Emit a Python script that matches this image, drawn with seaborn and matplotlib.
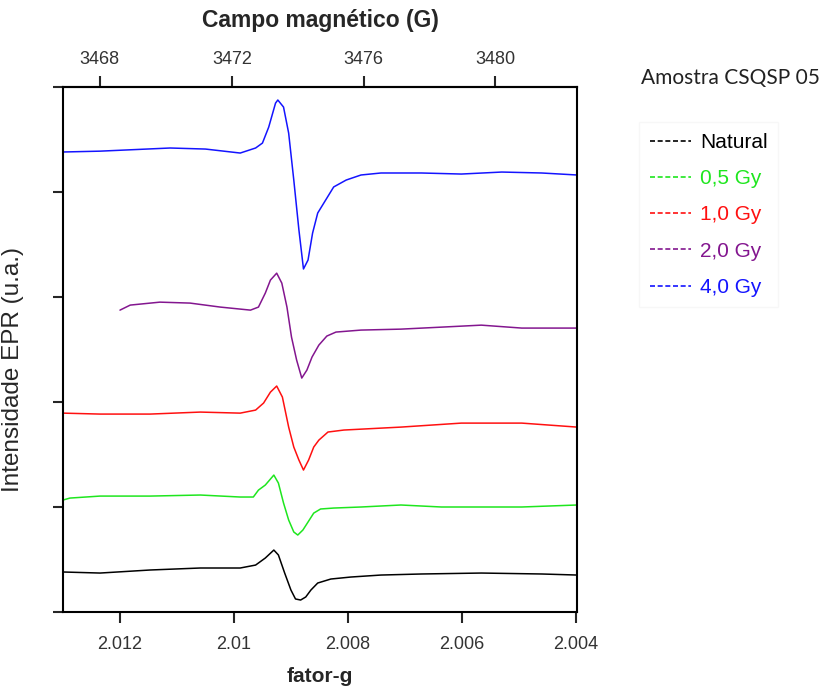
import numpy as np
import pandas as pd
import matplotlib
matplotlib.use("Agg")
import matplotlib.pyplot as plt
from matplotlib.lines import Line2D
import seaborn as sns

# ---------------- data ----------------
g_natural = [2.01300, 2.01235, 2.01147, 2.01059, 2.00989, 2.00962, 2.00945, 2.00930,
             2.00922, 2.00911, 2.00900, 2.00892, 2.00883, 2.00874, 2.00865, 2.00853,
             2.00830, 2.00795, 2.00742, 2.00671, 2.00566, 2.00460, 2.00398]
i_natural = [38.1, 37.1, 40.0, 41.9, 41.9, 44.7, 51.4, 59.0,
             54.3, 37.1, 20.9, 12.4, 11.4, 14.3, 20.9, 27.6,
             31.4, 33.3, 35.2, 36.2, 37.1, 36.2, 35.2]

g_05gy = [2.01300, 2.01288, 2.01235, 2.01147, 2.01059, 2.00989, 2.00966, 2.00957,
          2.00945, 2.00930, 2.00922, 2.00913, 2.00904, 2.00895, 2.00888, 2.00879,
          2.00870, 2.00860, 2.00848, 2.00825, 2.00777, 2.00707, 2.00636, 2.00566,
          2.00495, 2.00398]
i_05gy = [106.6, 108.5, 110.4, 110.4, 111.4, 109.5, 109.5, 116.1,
          120.9, 130.4, 122.8, 103.8, 87.6, 76.2, 73.3, 78.1,
          85.7, 94.2, 98.1, 99.0, 100.0, 101.9, 100.0, 100.0,
          100.0, 101.9]

g_10gy = [2.01300, 2.01235, 2.01147, 2.01059, 2.00989, 2.00962, 2.00948, 2.00936,
          2.00925, 2.00915, 2.00904, 2.00895, 2.00886, 2.00878, 2.00869, 2.00860,
          2.00851, 2.00835, 2.00807, 2.00707, 2.00601, 2.00495, 2.00398]
i_10gy = [189.4, 188.5, 188.5, 190.4, 189.4, 192.3, 199.0, 209.4,
          215.2, 204.7, 176.1, 157.1, 144.7, 135.2, 144.7, 157.1,
          163.7, 171.4, 173.3, 176.1, 179.9, 179.9, 176.1]

g_20gy = [2.01200, 2.01182, 2.01130, 2.01077, 2.01024, 2.00971, 2.00957, 2.00945,
          2.00936, 2.00925, 2.00916, 2.00907, 2.00899, 2.00890, 2.00881, 2.00872,
          2.00863, 2.00851, 2.00837, 2.00821, 2.00777, 2.00707, 2.00636, 2.00566,
          2.00495, 2.00398]
i_20gy = [287.5, 292.3, 295.1, 294.2, 290.4, 287.5, 290.4, 303.7,
          316.1, 322.7, 313.2, 290.4, 261.8, 239.9, 222.8, 230.4,
          242.8, 254.2, 262.8, 266.6, 268.5, 269.4, 271.3, 273.2,
          270.4, 270.4]

g_40gy = [2.01300, 2.01235, 2.01112, 2.01050, 2.00989, 2.00962, 2.00950, 2.00939,
          2.00927, 2.00923, 2.00913, 2.00904, 2.00895, 2.00886, 2.00878, 2.00870,
          2.00862, 2.00853, 2.00839, 2.00825, 2.00803, 2.00777, 2.00742, 2.00671,
          2.00601, 2.00530, 2.00460, 2.00398]
i_40gy = [438.1, 438.9, 441.9, 440.9, 437.1, 441.9, 446.6, 461.8,
          484.7, 487.6, 480.9, 456.1, 411.4, 363.8, 326.7, 335.2,
          360.9, 380.0, 392.4, 404.8, 411.4, 416.2, 418.1, 418.1,
          417.1, 419.0, 418.1, 416.2]

series_labels = ["Natural", "0,5 Gy", "1,0 Gy", "2,0 Gy", "4,0 Gy"]
series_colors = ["#000000", "#1ee61e", "#ff1010", "#83168f", "#1414ff"]
legend_title = "Amostra CSQSP 05"

g_ticks = [2.012, 2.010, 2.008, 2.006, 2.004]
g_ticklabels = ["2.012", "2.01", "2.008", "2.006", "2.004"]
field_ticks = [3468, 3472, 3476, 3480]
field_ticklabels = ["3468", "3472", "3476", "3480"]
g_limits = (2.01300, 2.00398)
i_limits = (0, 500)
i_ticks = [0, 100, 200, 300, 400, 500]
G_TIMES_B = 6978.85  # g * B (G), constant of the resonance condition

# ---------------- build long-form table ----------------
frames = []
for lab, gs, ys in zip(series_labels,
                       [g_natural, g_05gy, g_10gy, g_20gy, g_40gy],
                       [i_natural, i_05gy, i_10gy, i_20gy, i_40gy]):
    frames.append(pd.DataFrame({"g": gs, "I": ys, "amostra": lab}))
df = pd.concat(frames, ignore_index=True)

# ---------------- figure ----------------
sns.set_style("white")
plt.rcParams["font.family"] = ["Liberation Sans", "DejaVu Sans"]

W, H = 825, 687
fig = plt.figure(figsize=(W / 100, H / 100), dpi=100)
ax = fig.add_axes([63 / W, 1 - 612 / H, 514 / W, 525 / H])

sns.lineplot(data=df, x="g", y="I", hue="amostra", hue_order=series_labels,
             palette=dict(zip(series_labels, series_colors)), sort=False,
             estimator=None, legend=False, ax=ax, linewidth=1.1)

ax.set_xlim(*g_limits)
ax.set_ylim(*i_limits)
ax.set_xticks(g_ticks)
ax.set_xticklabels(g_ticklabels)
ax.set_yticks(i_ticks)
ax.set_yticklabels([])
for s in ax.spines.values():
    s.set_visible(True)
    s.set_linewidth(1.5)
    s.set_color("black")
ax.tick_params(axis="x", which="both", direction="out", length=8, width=1.5,
               labelsize=13, labelcolor="#333333", pad=9, top=False, bottom=True)
ax.tick_params(axis="y", which="both", direction="out", length=7, width=1.5,
               left=True, right=False)
ax.set_xlabel("fator-g", fontsize=15, fontweight="bold", labelpad=10)
ax.set_ylabel("Intensidade EPR (u.a.)", fontsize=17.5)
ax.yaxis.set_label_coords((24 - 63) / 514, (612 - 369) / 525)

sec = ax.secondary_xaxis("top", functions=(lambda g: G_TIMES_B / g,
                                           lambda b: G_TIMES_B / b))
sec.set_xticks(field_ticks)
sec.set_xticklabels(field_ticklabels)
sec.tick_params(direction="out", length=8, width=1.5, labelsize=13,
                labelcolor="#333333", pad=6)
sec.spines["top"].set_linewidth(1.5)
sec.set_xlabel("Campo magnético (G)", fontsize=16.5, fontweight="bold", labelpad=17)

handles = [Line2D([0], [0], color=c, lw=1.2, linestyle=(0, (3, 1.6)))
           for c in series_colors]
leg = fig.legend(handles, series_labels, loc="upper left",
                 bbox_to_anchor=(629 / W, 1 - 112 / H), frameon=True,
                 fancybox=False, edgecolor="#f6f6f6", facecolor="white",
                 fontsize=15, handlelength=2.0, handletextpad=0.4,
                 labelspacing=0.83, borderpad=0.5, labelcolor=series_colors)
fig.text(730 / W, 1 - 78 / H, legend_title, ha="center", va="center",
         fontsize=15, family=["Lato", "DejaVu Sans"], color="#222222")

fig.savefig("out.png", dpi=100)
